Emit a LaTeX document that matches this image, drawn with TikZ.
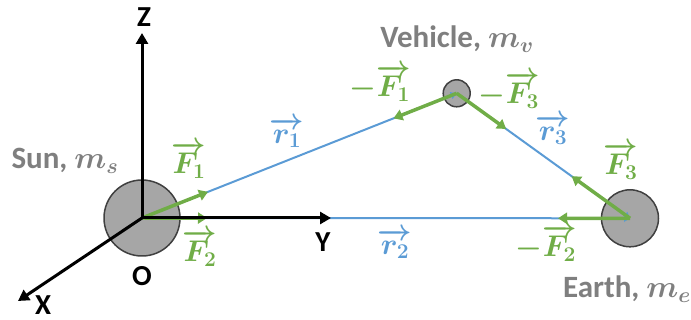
\RequirePackage{fix-cm}
\documentclass[tikz,border=0pt]{standalone}
\usepackage{amsmath}
\usepackage{fontspec}
\setmainfont{Carlito}
\usetikzlibrary{arrows.meta,calc}
\definecolor{vgreen}{RGB}{112,173,71}
\definecolor{vblue}{RGB}{91,155,213}
\definecolor{tgray}{RGB}{127,127,127}
\definecolor{bfill}{RGB}{166,166,166}
\definecolor{bdraw}{RGB}{64,64,64}
\begin{document}
\begin{tikzpicture}[x=1pt,y=-1pt,
  body/.style={circle,fill=bfill,draw=bdraw,line width=1.5pt,inner sep=0pt},
  axis/.style={line width=3pt,-{Triangle[width=12pt,length=11pt]}},
  rvec/.style={vblue,line width=2pt,-{Triangle[width=7pt,length=6pt]}},
  force/.style={vgreen,line width=3.5pt,-{Triangle[width=11pt,length=9pt]}},
  axlab/.style={font=\fontsize{29}{32}\selectfont\bfseries,inner sep=0pt},
  bodylab/.style={font=\fontsize{31}{36}\selectfont\bfseries\boldmath,text=tgray,inner sep=0pt},
  flab/.style={font=\fontsize{30}{36}\selectfont\boldmath,text=vgreen,inner sep=0pt},
  rlab/.style={font=\fontsize{30}{36}\selectfont\boldmath,text=vblue,inner sep=0pt}]
\useasboundingbox (0,0) rectangle (691,320);
% bodies
\node[body,minimum size=76pt] (sun) at (142,218) {};
\node[body,minimum size=27pt] (veh) at (456.7,93.3) {};
\node[body,minimum size=57pt] (earth) at (630,218.3) {};
% axis end points
\coordinate (zt) at (142,33);
\coordinate (yt) at (331,218);
\coordinate (xt) at (18,301);
% position vectors
\draw[rvec] (sun.center) -- (veh.center);
\draw[rvec] (sun.center) -- (earth.center);
\draw[rvec] (veh.center) -- (earth.center);
% forces
\draw[force] (sun.center) -- ($(sun.center)!71pt!(veh.center)$);
\draw[force] (sun.center) -- ($(sun.center)!65pt!(earth.center)$);
\draw[force] (veh.center) -- ($(veh.center)!68pt!(sun.center)$);
\draw[force] (veh.center) -- ($(veh.center)!61pt!(earth.center)$);
\draw[force] (earth.center) -- ($(earth.center)!72pt!(veh.center)$);
\draw[force] (earth.center) -- ($(earth.center)!72pt!(sun.center)$);
% axes
\draw[axis] (sun.center) -- (zt);
\draw[axis] (sun.center) -- (yt);
\draw[axis] (sun.center) -- (xt);
% axis labels
\node[axlab] (zl) at (144,17) {Z};
\node[axlab] (yl) at (323,242) {Y};
\node[axlab] (xl) at (43,305) {X};
\node[axlab] (ol) at (142,276) {O};
% body labels
\node[bodylab] (sunl) at (65,161) {Sun, $m_{s}$};
\node[bodylab] (vehl) at (457,39) {Vehicle, $m_{v}$};
\node[bodylab] (earthl) at (627,289) {Earth, $m_{e}$};
% vector labels
\node[flab] (f1) at (189,160) {$\overrightarrow{F_{1}}$};
\node[flab] (f2) at (200,248) {$\overrightarrow{F_{2}}$};
\node[flab] (mf1) at (380,83) {$-\overrightarrow{F_{1}}$};
\node[flab] (mf3) at (509,90) {$-\overrightarrow{F_{3}}$};
\node[flab] (f3) at (621,161) {$\overrightarrow{F_{3}}$};
\node[flab] (mf2) at (546,243) {$-\overrightarrow{F_{2}}$};
\node[rlab] (r1) at (287,133) {$\overrightarrow{r_{1}}$};
\node[rlab] (r2) at (395,244) {$\overrightarrow{r_{2}}$};
\node[rlab] (r3) at (553,130) {$\overrightarrow{r_{3}}$};
\end{tikzpicture}
\end{document}
